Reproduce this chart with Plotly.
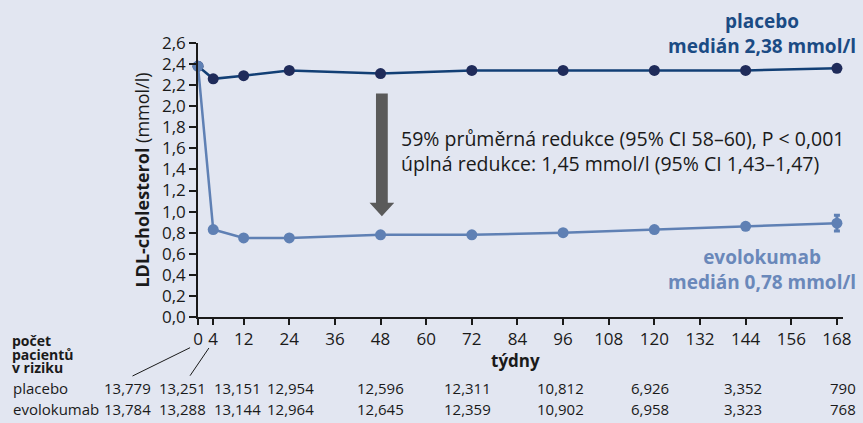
import plotly.graph_objects as go

# data
weeks = [0, 4, 12, 24, 48, 72, 96, 120, 144, 168]
placebo_ldl = [2.38, 2.26, 2.29, 2.34, 2.31, 2.34, 2.34, 2.34, 2.34, 2.36]
evolo_ldl = [2.38, 0.83, 0.75, 0.75, 0.78, 0.78, 0.80, 0.83, 0.86, 0.89]
evolo_err = [0, 0, 0, 0, 0, 0, 0, 0, 0, 0.075]

xtick_vals = [0, 4, 12, 24, 36, 48, 60, 72, 84, 96, 108, 120, 132, 144, 156, 168]
ytick_vals = [0.0, 0.2, 0.4, 0.6, 0.8, 1.0, 1.2, 1.4, 1.6, 1.8, 2.0, 2.2, 2.4, 2.6]

risk_placebo = ["13,779", "13,251", "13,151", "12,954", "12,596", "12,311", "10,812", "6,926", "3,352", "790"]
risk_evolo = ["13,784", "13,288", "13,144", "12,964", "12,645", "12,359", "10,902", "6,958", "3,323", "768"]

BG = "#e2e6f1"
DARK = "#123f75"
DARK_MK = "#1f2b5a"
LIGHT = "#5f80b4"
TXT = "#1a1a1a"
FONT = "Open Sans"

# plot area in pixels: x 198..848, y 43..317
L, R, T, B = 198, 848, 43, 317
W, H = 863, 423


def px(x):
    return (x - L) / (R - L)


def py(y):
    return (B - y) / (B - T)


fig = go.Figure()

fig.add_trace(go.Scatter(x=weeks, y=placebo_ldl, mode="lines+markers",
                         line=dict(color=DARK, width=2.5),
                         marker=dict(color=DARK_MK, size=11),
                         cliponaxis=False, showlegend=False))
fig.add_trace(go.Scatter(x=weeks, y=evolo_ldl, mode="lines+markers",
                         line=dict(color=LIGHT, width=2.5),
                         marker=dict(color=LIGHT, size=11),
                         error_y=dict(type="data", array=evolo_err, color=LIGHT, thickness=3, width=3),
                         cliponaxis=False, showlegend=False))

# big grey arrow
fig.add_shape(type="path", xref="x", yref="y", layer="above",
              path="M 46.8 2.12 L 49.9 2.12 L 49.9 1.085 L 51.6 1.085 L 48.35 0.955 "
                   "L 45.1 1.085 L 46.8 1.085 Z",
              fillcolor="#5a5a5a", line=dict(width=0))

ann = []
ann.append(dict(x=px(401), y=py(150.5), xref="paper", yref="paper", xanchor="left", yanchor="middle",
                align="left", showarrow=False,
                text="59% průměrná redukce (95% CI 58–60), P < 0,001<br>"
                     "úplná redukce: 1,45 mmol/l (95% CI 1,43–1,47)",
                font=dict(family=FONT, size=19.5, color=TXT)))
ann.append(dict(x=px(863), y=py(33.5), xref="paper", yref="paper", xanchor="right", yanchor="middle",
                align="center", showarrow=False,
                text="<b>placebo</b><br><b>medián 2,38 mmol/l</b>",
                font=dict(family=FONT, size=19, color="#1b4b84")))
ann.append(dict(x=px(863), y=py(269.5), xref="paper", yref="paper", xanchor="right", yanchor="middle",
                align="center", showarrow=False,
                text="<b>evolokumab</b><br><b>medián 0,78 mmol/l</b>",
                font=dict(family=FONT, size=19, color="#6a88ba")))
ann.append(dict(x=px(518), y=py(360.5), xref="paper", yref="paper", xanchor="center", yanchor="middle",
                showarrow=False, text="<b>týdny</b>",
                font=dict(family=FONT, size=17, color=TXT)))

# number at risk table
for i, t in enumerate(["počet", "pacientů", "v riziku"]):
    ann.append(dict(x=px(9), y=py(341 + 13 * i), xref="paper", yref="paper", xanchor="left",
                    yanchor="middle", showarrow=False, text="<b>" + t + "</b>",
                    font=dict(family=FONT, size=14, color=TXT)))

right_edges = [152, 207, 262, 316, 407, 494, 588, 674, 767, 862]
for label, row, ypx in [("placebo", risk_placebo, 388), ("evolokumab", risk_evolo, 409)]:
    ann.append(dict(x=px(10), y=py(ypx), xref="paper", yref="paper", xanchor="left", yanchor="middle",
                    showarrow=False, text=label, font=dict(family=FONT, size=15, color=TXT)))
    for val, r in zip(row, right_edges):
        ann.append(dict(x=px(r + 1), y=py(ypx), xref="paper", yref="paper", xanchor="right", yanchor="middle",
                        showarrow=False, text=val, font=dict(family=FONT, size=15, color=TXT)))

# leader lines from 0 and 4 to the first columns
fig.add_shape(type="line", xref="paper", yref="paper", x0=px(190), y0=py(347.7), x1=px(132), y1=py(376),
              line=dict(color=TXT, width=1))
fig.add_shape(type="line", xref="paper", yref="paper", x0=px(209), y0=py(348), x1=px(190), y1=py(375.7),
              line=dict(color=TXT, width=1))

fig.update_layout(
    width=W, height=H,
    margin=dict(l=L, r=W - R, t=T, b=H - B),
    paper_bgcolor=BG, plot_bgcolor=BG,
    separators=",.",
    font=dict(family=FONT, size=17, color=TXT),
    annotations=ann,
)
fig.update_xaxes(range=[0, 169.6], tickvals=xtick_vals, ticks="outside", ticklen=6, tickwidth=1.5,
                 tickcolor=TXT, showline=True, linecolor=TXT, linewidth=1.5,
                 showgrid=False, zeroline=False, tickfont=dict(size=17))
fig.update_yaxes(range=[0, 2.6], tickvals=ytick_vals, tickformat=".1f", ticks="outside", ticklen=7,
                 tickwidth=1.5, tickcolor=TXT, showline=True, linecolor=TXT, linewidth=1.5,
                 showgrid=False, zeroline=False, tickfont=dict(size=17),
                 title=dict(text="<b>LDL-cholesterol</b> (mmol/l)", font=dict(size=18), standoff=8))

fig.write_html("out.html", config={"displayModeBar": False},
               post_script="document.body.style.margin='0';")
